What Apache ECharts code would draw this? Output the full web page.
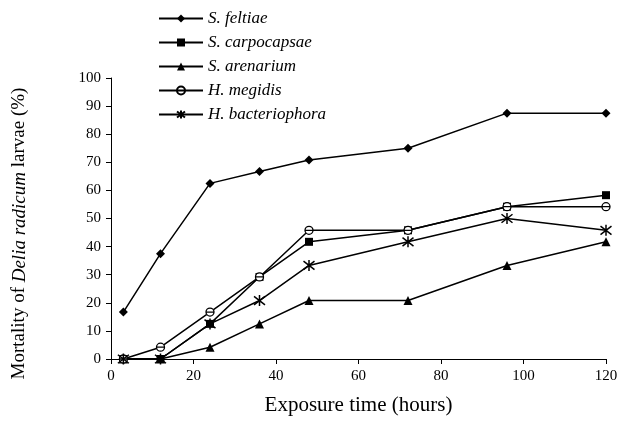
<!DOCTYPE html>
<html>
<head>
    <meta charset="utf-8">
    <title>Mortality of Delia radicum larvae</title>
    <script src="https://cdn.jsdelivr.net/npm/echarts@6/dist/echarts.min.js"></script>
</head>
<body style="margin:0">
<div id="chart" style="width: 625px; height: 437px;"></div>
<script>
    // exposure time (hours)
    var hours = [3, 12, 24, 36, 48, 72, 96, 120];
    var seriesNames = ['S. feltiae', 'S. carpocapsae', 'S. arenarium', 'H. megidis', 'H. bacteriophora'];
    var feltiae = [16.7, 37.5, 62.5, 66.7, 70.8, 75, 87.5, 87.5];
    var carpocapsae = [0, 0, 12.5, 29.2, 41.7, 45.8, 54.2, 58.3];
    var arenarium = [0, 0, 4.2, 12.5, 20.8, 20.8, 33.3, 41.7];
    var megidis = [0, 4.2, 16.7, 29.2, 45.8, 45.8, 54.2, 54.2];
    var bacteriophora = [0, 0, 12.5, 20.8, 33.3, 41.7, 50, 45.8];

    var font = 'Liberation Serif';

    function pairs(vals) {
        return hours.map(function (h, i) { return [h, vals[i]]; });
    }

    // 圆圈里加一横, 星号用线画
    var circleBar = 'path://M-1,0A1,1 0 1,0 1,0A1,1 0 1,0 -1,0ZM-1,0L1,0';
    var asterisk = 'path://M-1,-1L1,1M-1,1L1,-1M0,-1.3L0,1.3';

    function mk(name, vals, symbol, size, fill, border) {
        return {
            name: name,
            type: 'line',
            data: pairs(vals),
            symbol: symbol,
            symbolSize: size,
            color: '#000',
            itemStyle: {
                color: fill,
                borderColor: '#000',
                borderWidth: border
            },
            lineStyle: { color: '#000', width: 1.5 },
            emphasis: { disabled: true },
            animation: false
        };
    }

    var chart = echarts.init(document.getElementById('chart'));
    var option = {
        backgroundColor: '#fff',
        legend: {
            orient: 'vertical',
            left: 153,
            top: 5,
            itemWidth: 44,
            itemHeight: 10,
            itemGap: 7,
            data: seriesNames,
            textStyle: {
                fontFamily: font,
                fontStyle: 'italic',
                fontSize: 17,
                color: '#000'
            }
        },
        grid: { left: 111, right: 19, top: 78, bottom: 78 },
        xAxis: {
            type: 'value',
            min: 0,
            max: 120,
            interval: 20,
            name: 'Exposure time (hours)',
            nameLocation: 'middle',
            nameGap: 36,
            nameTextStyle: { fontFamily: font, fontSize: 21, color: '#000' },
            axisLine: { lineStyle: { color: '#000', width: 1 } },
            axisTick: { length: 5, lineStyle: { color: '#000' } },
            axisLabel: { fontFamily: font, fontSize: 15, color: '#000', margin: 10 },
            splitLine: { show: false }
        },
        yAxis: {
            type: 'value',
            min: 0,
            max: 100,
            interval: 10,
            name: '{n|Mortality of }{i|Delia radicum}{n| larvae (%)}',
            nameLocation: 'middle',
            nameGap: 82,
            nameTextStyle: {
                fontFamily: font,
                fontSize: 19,
                color: '#000',
                padding: [0, 30, 0, 0],
                rich: {
                    n: { fontFamily: font, fontSize: 19, color: '#000' },
                    i: { fontFamily: font, fontSize: 19, fontStyle: 'italic', color: '#000' }
                }
            },
            axisLine: { show: true, lineStyle: { color: '#000', width: 1 } },
            axisTick: { show: true, length: 5, lineStyle: { color: '#000' } },
            axisLabel: { fontFamily: font, fontSize: 15, color: '#000', margin: 10 },
            splitLine: { show: false }
        },
        series: [
            mk('S. feltiae', feltiae, 'diamond', 9, '#000', 0),
            mk('S. carpocapsae', carpocapsae, 'rect', 8, '#000', 0),
            mk('S. arenarium', arenarium, 'triangle', 9, '#000', 0),
            mk('H. megidis', megidis, circleBar, 8, '#fff', 1.3),
            mk('H. bacteriophora', bacteriophora, asterisk, 11, 'none', 1.5)
        ]
    };
    chart.setOption(option);
</script>
</body>
</html>
